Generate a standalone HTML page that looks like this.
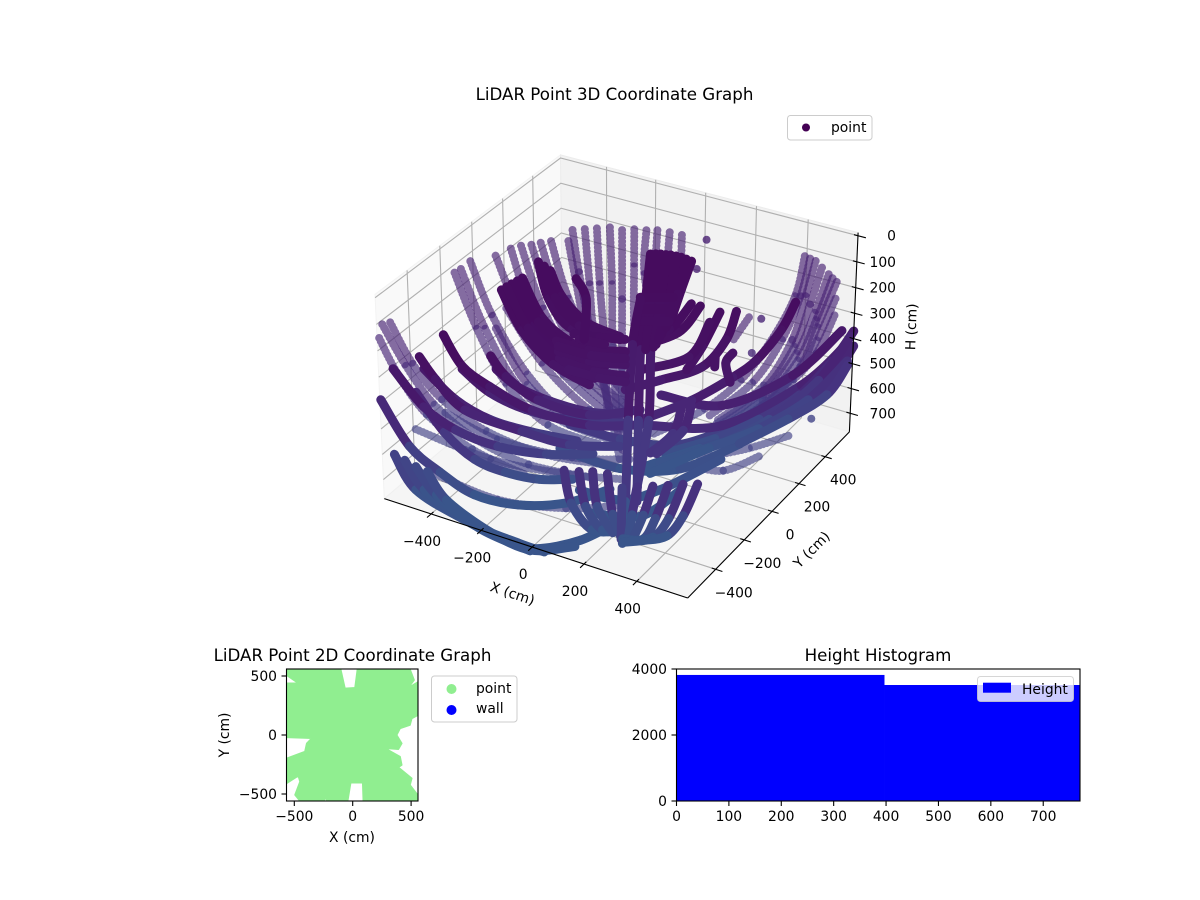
<!DOCTYPE html>
<html>
<head>
<meta charset="utf-8">
<title>LiDAR Point Graphs</title>
<style>
html,body{margin:0;padding:0;background:#fff}
svg{display:block}
text{font-family:"DejaVu Sans","Liberation Sans",sans-serif;font-size:13.89px;fill:#000}
.ttl{font-size:16.67px;text-anchor:middle}
</style>
</head>
<body>
<svg id="fig" xmlns="http://www.w3.org/2000/svg" width="1200" height="900" viewBox="0 0 1200 900">
  <defs><clipPath id="clip2d"><rect x="286.5" y="669" width="131.5" height="132"/></clipPath></defs>
  <g id="box3d"></g>
  <g id="marks3d"></g>
  <g id="axes3d"></g>
  <text class="ttl" x="614.5" y="100">LiDAR Point 3D Coordinate Graph</text>
  <text x="0" y="0" text-anchor="middle" transform="translate(511,598) rotate(18.5)">X (cm)</text>
  <text x="0" y="0" text-anchor="middle" transform="translate(815,553) rotate(-45)">Y (cm)</text>
  <text x="0" y="0" text-anchor="middle" transform="translate(916,327) rotate(-88)">H (cm)</text>
  <g>
    <rect x="787.5" y="115.5" width="84.5" height="24.5" rx="3" fill="#fff" fill-opacity="0.8" stroke="#ccc"/>
    <circle cx="806" cy="127.5" r="4" fill="#440154"/>
    <text x="831" y="132">point</text>
  </g>

  <text class="ttl" x="352.5" y="661">LiDAR Point 2D Coordinate Graph</text>
  <g id="plot2d"></g>
  <text x="352" y="842" text-anchor="middle">X (cm)</text>
  <text x="0" y="0" text-anchor="middle" transform="translate(229,735) rotate(-90)">Y (cm)</text>
  <g>
    <rect x="431.5" y="676" width="85.5" height="46" rx="3" fill="#fff" stroke="#ccc"/>
    <circle cx="451.5" cy="689" r="5" fill="#90ee90"/>
    <text x="476" y="693">point</text>
    <circle cx="451.5" cy="710" r="5" fill="#0000ff"/>
    <text x="476" y="713">wall</text>
  </g>

  <text class="ttl" x="878" y="661">Height Histogram</text>
  <g id="hist"></g>
  <g>
    <rect x="977.5" y="676.5" width="96" height="25" rx="3" fill="#fff" fill-opacity="0.8" stroke="#ccc" stroke-opacity="0.8"/>
    <rect x="983" y="682.7" width="28" height="10" fill="#0000ff"/>
    <text x="1022" y="694">Height</text>
  </g>
</svg>
<script>
/* ---------- 3D chart values: each arc is a list of [X cm, Y cm, H cm] ---------- */
const xTicks3d = [-400, -200, 0, 200, 400];
const yTicks3d = [-400, -200, 0, 200, 400];
const hTicks3d = [0, 100, 200, 300, 400, 500, 600, 700];

const sparseLeftArcs = [
  [[-573,-580,100],[-533,-511,280],[-427,-507,400],[-319,-419,550],[-179,-316,660],[-7,-201,720]],
  [[-613,-545,180],[-548,-540,300],[-461,-504,450],[-344,-411,600],[-195,-322,700]],
  [[-558,-556,100],[-501,-517,260],[-423,-466,400],[-309,-371,540],[-159,-247,650],[-3,-137,700]],
  [[-590,-116,130],[-413,-256,230],[-241,-346,350],[-116,-288,500],[7,-155,610]],
  [[-554,-130,100],[-389,-242,230],[-211,-329,350],[-94,-255,490],[28,-124,600]],
  [[-536,-98,80],[-386,-200,200],[-207,-269,340],[-86,-216,480],[74,-99,560]],
  [[-481,-469,700],[-229,-436,750],[-18,-340,770],[132,-232,770]],
  [[-516,-493,530],[-298,-365,650],[-86,-222,720],[72,-131,740]],
  [[-414,-463,450],[-276,-356,570],[-74,-203,660],[87,-87,680]],
  [[-296,-253,120],[-161,-244,300],[-30,-162,480],[89,-91,560]],
  [[-311,-297,180],[-181,-312,350],[-52,-192,530],[88,-89,620]]
];
const sparseFanArcs = [
  [[-432,-100,30],[-269,-196,180],[-102,-209,340],[62,-148,500]],
  [[-394,-63,10],[-247,-164,170],[-82,-195,330],[60,-111,500]],
  [[-365,-44,0],[-226,-133,160],[-57,-185,320],[66,-107,480]],
  [[-338,-21,0],[-209,-106,150],[-33,-177,310],[76,-103,460]],
  [[-318,7,0],[-182,-90,150],[-11,-159,300]],
  [[-294,35,0],[-158,-78,130],[-4,-137,290],[86,-99,440]]
];
const sparseColumnArcs = [
  [[-272,140,0],[-185,36,90],[-49,-108,240],[73,-202,430],[125,-223,600]],
  [[-239,167,0],[-139,28,120],[-53,-87,240],[70,-182,480]],
  [[-206,192,0],[-109,45,120],[-7,-98,260],[51,-176,520]],
  [[-171,220,0],[-73,66,120],[17,-85,260],[87,-169,560]],
  [[-125,224,0],[-28,56,160],[69,-113,320],[132,-220,560]],
  [[-92,250,0],[-34,148,80],[57,-9,220],[120,-76,520]],
  [[-53,265,0],[23,119,80],[137,-2,240]],
  [[-20,283,0],[25,191,50]],
  [[23,292,0],[61,211,50]],
  [[69,295,0],[109,219,40]],
  [[-243,64,0],[-60,-130,220]]
];
const sparseRightArcs = [
  [[500,369,0],[518,269,100],[490,159,220],[423,69,350],[326,-20,450],[166,-86,560]],
  [[547,357,0],[556,271,90],[550,193,220],[483,123,380],[362,22,500]],
  [[594,363,40],[571,314,170],[534,260,310],[473,140,430],[329,45,560]],
  [[594,428,100],[584,312,220],[541,275,370],[447,185,500],[296,68,620]],
  [[598,413,220],[585,309,320],[522,263,420],[407,185,550],[264,89,660]],
  [[523,363,0],[537,270,95],[520,176,220],[453,96,365],[344,1,475]],
  [[570,360,20],[563,292,130],[542,226,265],[478,131,405],[345,33,530]],
  [[594,395,70],[578,313,195],[537,267,340],[460,162,465],[312,56,590]],
  [[596,420,160],[585,310,270],[531,269,395],[427,185,525],[280,78,640]],
  [[393,278,770],[329,134,770],[221,73,750],[118,-5,740]],
  [[456,377,720],[353,279,750],[220,165,770]],
  [[410,145,150],[371,111,230]]
];
const denseMeshArcs = [
  [[-157,-148,680],[38,-73,740],[218,29,740],[350,217,700]],
  [[-124,-135,580],[24,-48,640],[204,55,660],[364,260,620]],
  [[3,-287,720],[122,-217,760],[217,-106,750],[340,96,700]],
  [[72,-338,760],[224,-256,770],[277,-72,750]],
  [[173,-30,430],[361,58,460],[522,262,400],[606,460,300]],
  [[184,-118,500],[377,31,520],[517,340,480],[587,530,400]]
];
const denseRightArcs = [
  [[590,590,370],[558,496,450],[482,401,560],[377,306,640],[258,204,700],[132,76,730]],
  [[591,592,430],[554,517,520],[481,402,600],[363,262,680],[220,164,730],[81,-9,760]],
  [[574,600,400],[517,477,530],[399,338,650],[273,212,720],[125,54,760]],
  [[566,599,500],[486,463,610],[359,338,700],[233,211,750],[120,-7,770]],
  [[564,610,520],[520,541,620],[433,417,680],[333,246,720]],
  [[538,234,100],[503,204,200],[446,138,300],[383,89,360],[272,6,440],[129,-91,510]],
  [[363,144,140],[350,99,230],[293,36,320],[174,-33,370],[60,-75,420]],
  [[326,96,130],[295,33,240],[250,9,330]],
  [[379,94,270],[366,69,300],[391,55,360]],
  [[348,26,260],[346,28,300]],
  [[296,81,170],[256,13,280],[115,-68,330]],
  [[258,84,120],[213,16,200],[89,-44,260]],
  [[233,66,110],[185,4,190],[84,-48,240]]
];
const denseLeftArcs = [
  [[-600,-570,400],[-540,-500,600],[-431,-481,680],[-298,-476,730],[-161,-416,760],[-35,-311,770],[50,-162,770]],
  [[-525,-470,400],[-450,-420,560],[-338,-407,640],[-248,-357,690],[-150,-297,720],[-60,-226,730]],
  [[-580,-520,300],[-451,-536,400],[-370,-470,500],[-279,-352,600],[-153,-244,650],[-41,-121,680]],
  [[-490,-469,300],[-384,-444,400],[-304,-356,500],[-227,-215,600],[-106,-118,650]],
  [[-379,-406,300],[-309,-348,400],[-236,-240,500],[-150,-111,580],[-16,22,620]],
  [[-280,-350,300],[-231,-297,380],[-166,-222,450],[-66,-120,520],[9,-21,560]],
  [[-362,-537,100],[-294,-533,200],[-238,-457,300],[-126,-374,400],[4,-220,500],[111,-60,550]],
  [[-450,-552,200],[-420,-506,300],[-321,-485,400],[-190,-339,520],[-75,-221,600],[47,-89,640]],
  [[-249,-430,200],[-226,-374,300],[-144,-308,400],[-30,-162,500],[86,-18,520]]
];
const denseCornerArcs = [
  [[-555,-569,600],[-460,-588,700],[-285,-570,770],[-90,-604,770],[20,-600,770],[123,-482,770],[178,-312,770]],
  [[-522,-557,620],[-445,-560,710],[-246,-579,770],[-49,-600,770],[54,-602,770]],
  [[-486,-545,640],[-400,-554,720],[-203,-591,770],[10,-620,770]],
  [[-453,-525,660],[-362,-551,730],[-164,-591,770],[10,-615,770],[126,-524,770]]
];
const denseCentreArcs = [
  [[25,156,20],[67,50,130],[91,-26,280],[131,-109,500],[222,-278,700]],
  [[55,173,20],[97,67,130],[121,-9,280],[161,-92,500],[200,-250,700]],
  [[88,184,20],[127,84,130],[137,-1,260]],
  [[121,196,25],[148,96,130],[144,21,230]],
  [[161,197,30],[164,123,100],[166,50,180]],
  [[40,165,20],[82,58,130],[106,-17,280]],
  [[72,178,20],[112,75,130],[129,-5,270]],
  [[105,190,22],[137,90,130],[140,10,245]],
  [[141,196,27],[156,110,115],[155,35,205]],
  [[45,52,130],[141,107,130]],
  [[51,43,170],[141,94,170]],
  [[66,17,200],[150,65,200]],
  [[52,41,130],[68,-40,260],[101,-126,500],[189,-297,700],[253,-429,770]]
];
const denseBlobArcs = [
  [[-303,-34,50],[-235,-82,150],[-134,-98,230],[-11,13,290]],
  [[-246,-50,60],[-189,-73,130],[-90,-79,200],[-12,15,280]],
  [[-275,-42,55],[-212,-78,140],[-112,-88,215],[-12,14,285]],
  [[-310,-194,60],[-193,-246,160],[-101,-198,260],[10,-163,320]],
  [[-328,-231,70],[-220,-280,170],[-113,-257,280],[-1,-210,350]],
  [[-291,-157,50],[-183,-206,150],[-86,-167,240],[24,-117,300]],
  [[-300,-175,55],[-188,-226,155],[-94,-182,250],[17,-140,310]],
  [[-319,-212,65],[-206,-263,165],[-107,-227,270],[5,-186,335]],
  [[-130,-208,220],[-42,-141,260],[53,-63,280]],
  [[-125,-204,260],[-36,-151,300],[62,-79,320]],
  [[-93,-223,280],[-5,-171,320],[82,-113,340]],
  [[-134,-190,250],[-33,-142,280],[59,-73,300]],
  [[-78,-217,310],[22,-183,330],[94,-133,350]],
  [[-94,-153,210],[-26,-99,230],[47,-53,240]],
  [[-79,-144,230],[-5,-101,250]],
  [[-161,-24,80],[-107,-49,130],[-73,-121,240]]
];
const denseFrontArcs = [
  [[273,-66,430],[250,-82,530],[174,-102,620]],
  [[294,-38,430],[270,-47,530],[186,-81,630]],
  [[92,-532,480],[84,-476,640],[140,-435,750],[210,-365,770]],
  [[138,-514,480],[136,-470,640],[170,-418,750],[210,-365,770]],
  [[177,-492,480],[169,-451,640],[201,-403,760]],
  [[234,-494,470],[237,-466,640],[234,-403,770]],
  [[294,-502,500],[237,-410,770]],
  [[342,-486,490],[279,-410,660],[257,-398,770]],
  [[391,-470,480],[320,-407,650],[277,-399,760]],
  [[439,-455,470],[364,-404,650],[315,-398,750],[240,-405,770]],
  [[478,-425,470],[402,-382,650],[345,-385,740],[269,-405,770]],
  [[518,-400,470],[443,-357,640],[396,-381,720],[304,-379,770],[252,-422,770]]
];
const looseReturns = [
  [158,307,0],[185,190,50],[410,236,200],[410,172,300],[560,340,600]
];

/* ---------- 2D chart values: outline of the filled point footprint (cm) ---------- */
const footprintX = [-566,-103,-66,20,40,491,526,477,563,563,506,491,406,377,420,391,277,406,420,391,506,491,563,563,91,86,-17,-43,-223,-237,-245,-451,-494,-451,-466,-566,-566,-409,-394,-351,-566,-566,-466,-566];
const footprintY = [557,557,395,401,557,557,466,401,452,170,141,85,56,0,-71,-121,-113,-184,-254,-274,-367,-424,-517,-559,-559,-404,-404,-559,-559,-517,-559,-559,-508,-395,-347,-410,-198,-141,-71,-28,-20,438,438,508];
const xTicks2d = [-500, 0, 500];
const yTicks2d = [-500, 0, 500];

/* ---------- Histogram values ---------- */
const histBinEdges = [0, 397, 770];
const histCounts = [3820, 3515];
const histXTicks = [0, 100, 200, 300, 400, 500, 600, 700];
const histYTicks = [0, 2000, 4000];

/* ---------- Helpers ---------- */
const NS = 'http://www.w3.org/2000/svg';
function mk(tag, attrs, parent, txt) {
  const el = document.createElementNS(NS, tag);
  for (const k in attrs) el.setAttribute(k, attrs[k]);
  if (txt !== undefined) el.textContent = txt;
  parent.appendChild(el);
  return el;
}
const minus = v => String(v).replace('-', '\u2212');

/* 3D axis functions */
const LIM = 590, H_TOP = -12, H_BOT = 776;
function proj(x, y, h) {
  const a = x / 1032.5, b = y / 1032.5;
  const c = 0.378 - 0.756 * (h - H_TOP) / (H_BOT - H_TOP);
  const vx = 0.866 * a + 0.5 * b;
  const vy = -0.25 * a + 0.433 * b + 0.866 * c;
  const dv = 0.433 * a - 0.75 * b + 0.5 * c;
  const D = 10 - dv;
  return [621 + 3035 * vx / D, 365.7 - 3080 * vy / D];
}
const pstr = pts => pts.map(p => p[0].toFixed(1) + ',' + p[1].toFixed(1)).join(' ');

const VIR = [[68,1,84],[71,19,101],[72,36,117],[70,52,128],[65,68,135],[59,82,139],[51,99,141],[44,114,142]];
function viridis(t) {
  const f = Math.max(0, Math.min(0.3499, t)) / 0.05, i = Math.floor(f), r = f - i;
  const a = VIR[i], b = VIR[i + 1];
  return 'rgb(' + [0,1,2].map(k => Math.round(a[k] + (b[k] - a[k]) * r)).join(',') + ')';
}
const heightColor = (h, boost, cap) => viridis(Math.min(cap, 0.25 * Math.pow(Math.max(h, 0) / 770, 2.5) + boost));

/* 3D panes and grid */
const box = document.getElementById('box3d');
const axes3 = document.getElementById('axes3d');
const paneLeft = mk('polygon', {points: pstr([proj(-LIM,-LIM,H_BOT),proj(-LIM,LIM,H_BOT),proj(-LIM,LIM,H_TOP),proj(-LIM,-LIM,H_TOP)]), fill:'#f9f9f9', stroke:'#f3f3f3'}, box);


const paneBack = mk('polygon', {points: pstr([proj(-LIM,LIM,H_BOT),proj(LIM,LIM,H_BOT),proj(LIM,LIM,H_TOP),proj(-LIM,LIM,H_TOP)]), fill:'#f2f2f2', stroke:'#ececec'}, box);


const paneFloor = mk('polygon', {points: pstr([proj(-LIM,-LIM,H_BOT),proj(LIM,-LIM,H_BOT),proj(LIM,LIM,H_BOT),proj(-LIM,LIM,H_BOT)]), fill:'#f5f5f5', stroke:'#f0f0f0'}, box);



const gridStyle = {fill:'none', stroke:'#b0b0b0', 'stroke-width':1.1};
xTicks3d.forEach(v => {
  const g = mk('polyline', Object.assign({points: pstr([proj(v,-LIM,H_BOT),proj(v,LIM,H_BOT),proj(v,LIM,H_TOP)])}, gridStyle), box);
  
  
  const t = mk('polyline', {points: pstr([proj(v,-LIM-25,H_BOT),proj(v,-LIM+15,H_BOT)]), stroke:'#000', 'stroke-width':1.1, fill:'none'}, axes3);
  
  
  const q = proj(v,-LIM,H_BOT);
  const l = mk('text', {x:q[0]-9, y:q[1]+32, 'text-anchor':'middle'}, axes3, minus(v));
  
  
});
yTicks3d.forEach(v => {
  const g = mk('polyline', Object.assign({points: pstr([proj(LIM,v,H_BOT),proj(-LIM,v,H_BOT),proj(-LIM,v,H_TOP)])}, gridStyle), box);
  
  
  const t = mk('polyline', {points: pstr([proj(LIM-15,v,H_BOT),proj(LIM+25,v,H_BOT)]), stroke:'#000', 'stroke-width':1.1, fill:'none'}, axes3);
  
  
  const q = proj(LIM,v,H_BOT);
  const l = mk('text', {x:q[0]+18, y:q[1]+28, 'text-anchor':'middle'}, axes3, minus(v));
  
  
});
hTicks3d.forEach(v => {
  const g = mk('polyline', Object.assign({points: pstr([proj(-LIM,-LIM,v),proj(-LIM,LIM,v),proj(LIM,LIM,v)])}, gridStyle), box);
  
  
  const t = mk('polyline', {points: pstr([proj(LIM-15,LIM,v),proj(LIM+30,LIM,v)]), stroke:'#000', 'stroke-width':1.1, fill:'none'}, axes3);
  
  
  const q = proj(LIM,LIM,v);
  const l = mk('text', {x:896, y:q[1]+5, 'text-anchor':'end'}, axes3, String(v));
  
  
});
const xAxisLine = mk('polyline', {points: pstr([proj(-LIM,-LIM,H_BOT),proj(LIM,-LIM,H_BOT)]), stroke:'#000', 'stroke-width':1.1, fill:'none'}, axes3);


const yAxisLine = mk('polyline', {points: pstr([proj(LIM,-LIM,H_BOT),proj(LIM,LIM,H_BOT)]), stroke:'#000', 'stroke-width':1.1, fill:'none'}, axes3);


const hAxisLine = mk('polyline', {points: pstr([proj(LIM,LIM,H_BOT),proj(LIM,LIM,H_TOP)]), stroke:'#000', 'stroke-width':1.1, fill:'none'}, axes3);



/* 3D point arcs */
const marks = document.getElementById('marks3d');
function drawArc(arc, sparse) {
  const g = mk('g', {}, marks);
  
  
  const pts = arc.map(p => proj(p[0], p[1], p[2]));
  for (let i = 0; i < pts.length - 1; i++) {
    const p0 = pts[i-1] || pts[i], p1 = pts[i], p2 = pts[i+1], p3 = pts[i+2] || p2;
    const c1 = [p1[0] + (p2[0]-p0[0])/6, p1[1] + (p2[1]-p0[1])/6];
    const c2 = [p2[0] - (p3[0]-p1[0])/6, p2[1] - (p3[1]-p1[1])/6];
    const d = 'M' + p1[0].toFixed(1) + ' ' + p1[1].toFixed(1) + 'C' + c1[0].toFixed(1) + ' ' + c1[1].toFixed(1) + ' ' + c2[0].toFixed(1) + ' ' + c2[1].toFixed(1) + ' ' + p2[0].toFixed(1) + ' ' + p2[1].toFixed(1);
    const h = (arc[i][2] + arc[i+1][2]) / 2;
    const attrs = {d: d, fill:'none', 'stroke-linecap':'round', stroke: sparse ? heightColor(h, 0.09, 0.19) : heightColor(h, 0.03, 0.26)};
    if (sparse) {
      attrs['stroke-width'] = 8;
      attrs['stroke-dasharray'] = '0.01 3.8';
      attrs['stroke-opacity'] = 0.66;
    } else {
      attrs['stroke-width'] = 9;
    }
    const seg = mk('path', attrs, g);
    
    
  }
}
[sparseLeftArcs, sparseFanArcs, sparseColumnArcs, sparseRightArcs].forEach(s => s.forEach(a => drawArc(a, true)));
looseReturns.forEach(p => {
  const q = proj(p[0], p[1], p[2]);
  const c = mk('circle', {cx:q[0], cy:q[1], r:4, fill:heightColor(p[2], 0.09, 0.2), 'fill-opacity':0.8}, marks);
  
  
});
[denseMeshArcs, denseRightArcs, denseLeftArcs, denseCornerArcs, denseCentreArcs, denseBlobArcs, denseFrontArcs].forEach(s => s.forEach(a => drawArc(a, false)));

/* 2D footprint chart */
const plot2 = document.getElementById('plot2d');
const sx2 = v => 352.7 + v * 0.1168;
const sy2 = v => 735 - v * 0.118;
const foot = mk('polygon', {points: footprintX.map((v,i) => sx2(v).toFixed(1) + ',' + sy2(footprintY[i]).toFixed(1)).join(' '), fill:'#90ee90', stroke:'#90ee90', 'stroke-width':1.5, 'stroke-linejoin':'round', 'clip-path':'url(#clip2d)'}, plot2);


const frame2 = mk('rect', {x:286.5, y:669, width:131.5, height:132, fill:'none', stroke:'#000', 'stroke-width':1.1}, plot2);


xTicks2d.forEach(v => {
  const t = mk('line', {x1:sx2(v), x2:sx2(v), y1:801, y2:806, stroke:'#000', 'stroke-width':1.1}, plot2);
  
  
  const l = mk('text', {x:sx2(v), y:821, 'text-anchor':'middle'}, plot2, minus(v));
  
  
});
yTicks2d.forEach(v => {
  const t = mk('line', {x1:281.5, x2:286.5, y1:sy2(v), y2:sy2(v), stroke:'#000', 'stroke-width':1.1}, plot2);
  
  
  const l = mk('text', {x:277, y:sy2(v)+5, 'text-anchor':'end'}, plot2, minus(v));
  
  
});

/* Histogram */
const hist = document.getElementById('hist');
const sxH = v => 676.5 + v * 0.5239;
const syH = v => 801 - v * 0.033;
histCounts.forEach((c, i) => {
  const b = mk('rect', {x:sxH(histBinEdges[i]), y:syH(c), width:sxH(histBinEdges[i+1]) - sxH(histBinEdges[i]), height:syH(0) - syH(c), fill:'#0000ff'}, hist);
  
  
});
const frameH = mk('rect', {x:676.5, y:669, width:403.5, height:132, fill:'none', stroke:'#000', 'stroke-width':1.1}, hist);


histXTicks.forEach(v => {
  const t = mk('line', {x1:sxH(v), x2:sxH(v), y1:801, y2:806, stroke:'#000', 'stroke-width':1.1}, hist);
  
  
  const l = mk('text', {x:sxH(v), y:821, 'text-anchor':'middle'}, hist, String(v));
  
  
});
histYTicks.forEach(v => {
  const t = mk('line', {x1:671.5, x2:676.5, y1:syH(v), y2:syH(v), stroke:'#000', 'stroke-width':1.1}, hist);
  
  
  const l = mk('text', {x:667, y:syH(v)+5, 'text-anchor':'end'}, hist, String(v));
  
  
});
</script>
</body>
</html>
